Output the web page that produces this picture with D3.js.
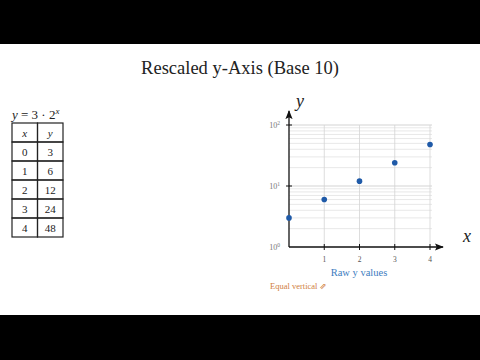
<!DOCTYPE html>
<html><head><meta charset="utf-8">
<script src="https://cdn.jsdelivr.net/npm/d3@7"></script>
<style>html,body{margin:0;padding:0;background:#fff;}svg{display:block;}</style>
</head><body>
<svg id="c" width="480" height="360"></svg>
<script>
const xValues = [0, 1, 2, 3, 4];
const yValues = [3, 6, 12, 24, 48];
const xTickLabels = ["1", "2", "3", "4"];
const yTickValues = [1, 10, 100];
const yTickExponents = ["0", "1", "2"];
const titleText = "Rescaled y-Axis (Base 10)";

const svg = d3.select("#c");
const tserif = "'Liberation Serif','DejaVu Serif',serif";

// black bars
svg.append("rect").attr("x",0).attr("y",0).attr("width",480).attr("height",44).attr("fill","#000");
svg.append("rect").attr("x",0).attr("y",315).attr("width",480).attr("height",45).attr("fill","#000");

// title
svg.append("text").attr("x",240).attr("y",74).attr("text-anchor","middle")
  .attr("font-family",tserif).attr("font-size",18.5).attr("fill","#222").text(titleText);

// formula
const f = svg.append("text").attr("x",12).attr("y",119).attr("font-family",tserif).attr("font-size",13).attr("fill","#222");
f.append("tspan").attr("font-style","italic").text("y");
f.append("tspan").text(" = 3 \u00b7 2");
f.append("tspan").attr("font-style","italic").attr("font-size",9).attr("dy",-5).text("x");

// table
const tx = d3.scaleBand().domain(["x","y"]).range([12,63]);
const rows = [{a:"x",b:"y",h:true}].concat(xValues.map((v,i)=>({a:String(v),b:String(yValues[i])})));
const ty = d3.scaleBand().domain(d3.range(rows.length)).range([123,237]);
const tg = svg.append("g");
rows.forEach((r,i)=>{
  ["x","y"].forEach((k,j)=>{
    tg.append("rect").attr("x",tx(k)).attr("y",ty(i)).attr("width",tx.bandwidth()).attr("height",ty.bandwidth())
      .attr("fill","none").attr("stroke","#222").attr("stroke-width",1.2);
    tg.append("text").attr("x",tx(k)+tx.bandwidth()/2).attr("y",ty(i)+ty.bandwidth()/2+4)
      .attr("text-anchor","middle").attr("font-family",tserif).attr("font-size",11)
      .attr("font-style",r.h?"italic":"normal").attr("fill","#222").text(j===0?r.a:r.b);
  });
});

// chart scales
const x = d3.scaleLinear().domain([0,4]).range([289,430]);
const y = d3.scaleLog().domain([1,100]).range([247,125]);

// grid horizontal (log minor)
const gridY = [];
for (let d=1; d<100; d*=10) for (let m=1; m<=9; m++) if (d*m>1) gridY.push(d*m);
gridY.push(100);
svg.append("g").selectAll("line").data(gridY).join("line")
  .attr("x1",x(0)).attr("x2",x(4)+2).attr("y1",d=>y(d)).attr("y2",d=>y(d))
  .attr("stroke",d=>(d===10||d===100)?"#c8c8c8":"#e2e2e2").attr("stroke-width",0.8);
// grid vertical
svg.append("g").selectAll("line").data(xValues.slice(1)).join("line")
  .attr("x1",d=>x(d)).attr("x2",d=>x(d)).attr("y1",y(100)).attr("y2",y(1))
  .attr("stroke","#d4d4d4").attr("stroke-width",0.8);

// axes with arrows
const defs = svg.append("defs");
defs.append("marker").attr("id","ar").attr("viewBox","0 0 10 10").attr("refX",9).attr("refY",5)
  .attr("markerWidth",9).attr("markerHeight",9).attr("markerUnits","userSpaceOnUse").attr("orient","auto")
  .append("path").attr("d","M0,1 L10,5 L0,9 L2,5 Z").attr("fill","#111");
svg.append("line").attr("x1",x(0)).attr("x2",x(0)).attr("y1",y(1)).attr("y2",111)
  .attr("stroke","#111").attr("stroke-width",1.3).attr("marker-end","url(#ar)");
svg.append("line").attr("x1",x(0)).attr("x2",443).attr("y1",y(1)).attr("y2",y(1))
  .attr("stroke","#111").attr("stroke-width",1.3).attr("marker-end","url(#ar)");

// ticks
svg.append("g").selectAll("line").data(xValues.slice(1)).join("line")
  .attr("x1",d=>x(d)).attr("x2",d=>x(d)).attr("y1",y(1)-3).attr("y2",y(1)+3).attr("stroke","#111").attr("stroke-width",1);
svg.append("g").selectAll("line").data(yTickValues.slice(1)).join("line")
  .attr("x1",x(0)-3).attr("x2",x(0)+3).attr("y1",d=>y(d)).attr("y2",d=>y(d)).attr("stroke","#111").attr("stroke-width",1);

svg.append("g").selectAll("text").data(xTickLabels).join("text")
  .attr("x",d=>x(+d)).attr("y",262).attr("text-anchor","middle")
  .attr("font-family",tserif).attr("font-size",7.5).attr("fill","#555").text(d=>d);
const yt = svg.append("g").selectAll("text").data(yTickValues).join("text")
  .attr("x",x(0)-9).attr("y",(d)=>y(d)+3).attr("text-anchor","end")
  .attr("font-family",tserif).attr("font-size",8).attr("fill","#777");
yt.append("tspan").text("10");
yt.append("tspan").attr("font-size",5.5).attr("dy",-3).text((d,i)=>yTickExponents[i]);

// axis labels
svg.append("text").attr("x",300).attr("y",107).attr("text-anchor","middle")
  .attr("font-family",tserif).attr("font-style","italic").attr("font-size",18).attr("fill","#222").text("y");
svg.append("text").attr("x",467).attr("y",242).attr("text-anchor","middle")
  .attr("font-family",tserif).attr("font-style","italic").attr("font-size",18).attr("fill","#222").text("x");

// points
svg.append("g").selectAll("circle").data(xValues).join("circle")
  .attr("cx",d=>x(d)).attr("cy",(d,i)=>y(yValues[i])).attr("r",2.8).attr("fill","#1f5aa8");

// captions
svg.append("text").attr("x",359).attr("y",276).attr("text-anchor","middle")
  .attr("font-family",tserif).attr("font-size",10.5).attr("fill","#3d7cc0").text("Raw y values");
svg.append("text").attr("x",270).attr("y",289)
  .attr("font-family",tserif).attr("font-size",8.5).attr("fill","#d08040").text("Equal vertical \u21d7");
</script>
</body></html>
